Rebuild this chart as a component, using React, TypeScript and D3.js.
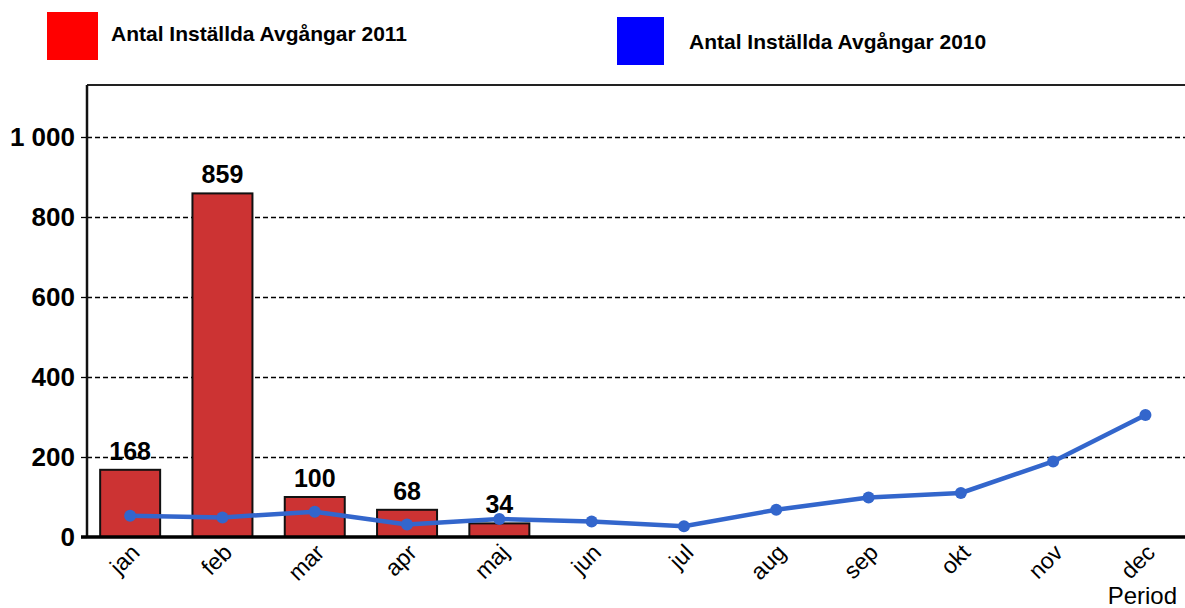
import React, { useEffect, useRef } from 'react';
import * as d3 from 'd3';

const months = ['jan', 'feb', 'mar', 'apr', 'maj', 'jun', 'jul', 'aug', 'sep', 'okt', 'nov', 'dec'];
const values2011 = [168, 859, 100, 68, 34];
const values2010 = [53, 49, 63, 31, 45, 39, 27, 68, 99, 110, 189, 305];
const yTicks = [0, 200, 400, 600, 800, 1000];
const legendLabels = ['Antal Inställda Avgångar 2011', 'Antal Inställda Avgångar 2010'];

const WIDTH = 1185;
const HEIGHT = 608;
const FONT = 'Arial, "Liberation Sans", Helvetica, sans-serif';

const App: React.FC = () => {
  const chartRef = useRef<SVGSVGElement>(null);

  useEffect(() => {
    if (!chartRef.current) return;

    // Clear previous chart
    d3.select(chartRef.current).selectAll('*').remove();
    const svg = d3.select(chartRef.current);

    const left = 87;
    const top = 85;
    const bottom = 537;

    // category bands run past the right edge, like the original crop
    const x = d3.scaleBand<string>()
      .domain(months)
      .range([84, 84 + 12 * 92.3])
      .paddingInner(0.35)
      .paddingOuter(0.175);

    const y = d3.scaleLinear().domain([0, 1130]).range([bottom, top]);

    // Gridlines
    svg.append('g')
      .selectAll('line')
      .data(yTicks.filter(d => d > 0))
      .enter()
      .append('line')
      .attr('x1', left)
      .attr('x2', WIDTH)
      .attr('y1', d => Math.round(y(d)) + 0.5)
      .attr('y2', d => Math.round(y(d)) + 0.5)
      .attr('stroke', '#000')
      .attr('stroke-width', 1.3)
      .attr('stroke-dasharray', '5,3');

    // Y ticks + labels
    const fmt = (v: number) => d3.format(',')(v).replace(/,/g, ' ');
    const yAxis = svg.append('g');
    yAxis.selectAll('line')
      .data(yTicks)
      .enter()
      .append('line')
      .attr('x1', left - 6)
      .attr('x2', left)
      .attr('y1', d => Math.round(y(d)) + 0.5)
      .attr('y2', d => Math.round(y(d)) + 0.5)
      .attr('stroke', '#000')
      .attr('stroke-width', 1.3);
    yAxis.selectAll('text')
      .data(yTicks)
      .enter()
      .append('text')
      .attr('x', 75)
      .attr('y', d => y(d))
      .attr('dy', '0.36em')
      .attr('text-anchor', 'end')
      .style('font-family', FONT)
      .style('font-size', '26px')
      .style('font-weight', 'bold')
      .text(d => fmt(d));

    // Bars (2011)
    svg.append('g')
      .selectAll('rect')
      .data(values2011)
      .enter()
      .append('rect')
      .attr('x', (_, i) => x(months[i])!)
      .attr('y', d => y(d))
      .attr('width', x.bandwidth())
      .attr('height', d => bottom - y(d))
      .attr('fill', '#CC3333')
      .attr('stroke', '#111')
      .attr('stroke-width', 2);

    // Bar value labels
    svg.append('g')
      .selectAll('text')
      .data(values2011)
      .enter()
      .append('text')
      .attr('x', (_, i) => x(months[i])! + x.bandwidth() / 2)
      .attr('y', d => y(d) - 10)
      .attr('text-anchor', 'middle')
      .style('font-family', FONT)
      .style('font-size', '25px')
      .style('font-weight', 'bold')
      .text(d => d);

    // Axis frame
    svg.append('line')
      .attr('x1', left).attr('x2', WIDTH)
      .attr('y1', top).attr('y2', top)
      .attr('stroke', '#222').attr('stroke-width', 2);
    svg.append('line')
      .attr('x1', left).attr('x2', left)
      .attr('y1', top).attr('y2', bottom)
      .attr('stroke', '#111').attr('stroke-width', 2.5);
    svg.append('line')
      .attr('x1', left - 6).attr('x2', WIDTH)
      .attr('y1', bottom).attr('y2', bottom)
      .attr('stroke', '#000').attr('stroke-width', 3.5);

    // Line (2010)
    const cx = (i: number) => x(months[i])! + x.bandwidth() / 2;
    const line = d3.line<number>()
      .x((_, i) => cx(i))
      .y(d => y(d));

    svg.append('path')
      .datum(values2010)
      .attr('d', line)
      .attr('fill', 'none')
      .attr('stroke', '#3366CC')
      .attr('stroke-width', 4.5)
      .attr('stroke-linejoin', 'round');

    svg.append('g')
      .selectAll('circle')
      .data(values2010)
      .enter()
      .append('circle')
      .attr('cx', (_, i) => cx(i))
      .attr('cy', d => y(d))
      .attr('r', 6)
      .attr('fill', '#3366CC');

    // X labels, rotated
    svg.append('g')
      .selectAll('text')
      .data(months)
      .enter()
      .append('text')
      .attr('transform', d => `translate(${x(d)! + x.bandwidth() / 2 + 11},554) rotate(-45)`)
      .attr('text-anchor', 'end')
      .style('font-family', FONT)
      .style('font-size', '23px')
      .text(d => d);

    svg.append('text')
      .attr('x', 1177)
      .attr('y', 604)
      .attr('text-anchor', 'end')
      .style('font-family', FONT)
      .style('font-size', '24px')
      .text('Period');

    // Legend
    const legend = [
      { label: legendLabels[0], color: '#FF0000', x: 47, y: 12, w: 51, h: 48, tx: 111, ty: 41 },
      { label: legendLabels[1], color: '#0000FF', x: 617, y: 17, w: 47, h: 48, tx: 689, ty: 49 },
    ];
    const lg = svg.append('g').selectAll('g').data(legend).enter().append('g');
    lg.append('rect')
      .attr('x', d => d.x)
      .attr('y', d => d.y)
      .attr('width', d => d.w)
      .attr('height', d => d.h)
      .attr('fill', d => d.color);
    lg.append('text')
      .attr('x', d => d.tx)
      .attr('y', d => d.ty)
      .style('font-family', FONT)
      .style('font-size', '21px')
      .style('font-weight', 'bold')
      .text(d => d.label);
  }, []);

  return (
    <svg
      ref={chartRef}
      width={WIDTH}
      height={HEIGHT}
      style={{ position: 'absolute', left: 0, top: 0, background: '#fff' }}
    />
  );
};

export default App;
